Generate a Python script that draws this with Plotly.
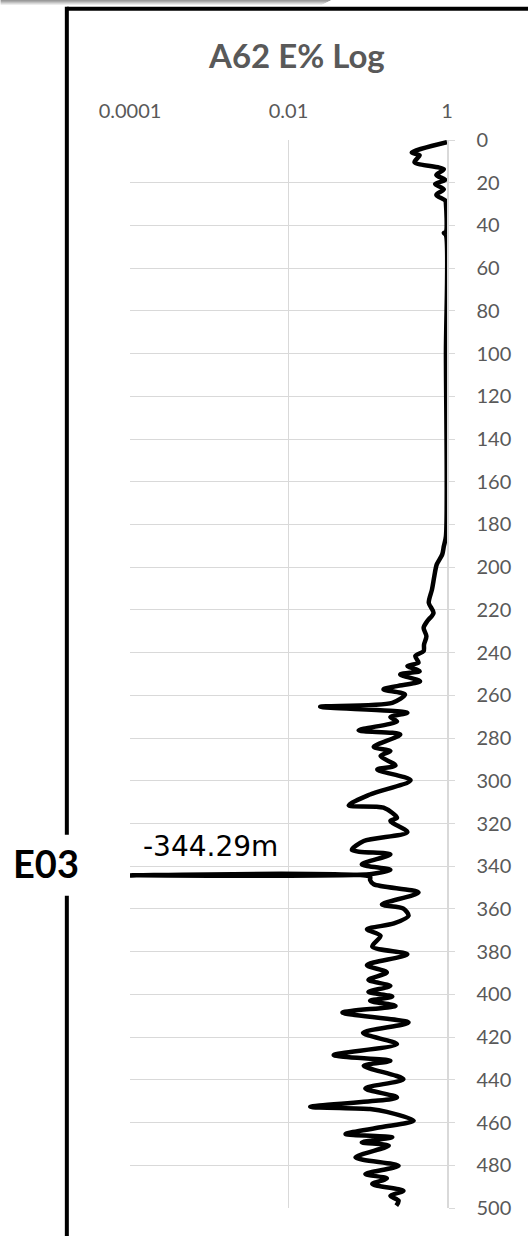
import plotly.graph_objects as go

# ---------------- data ----------------
depth_m = [1.0, 5.9, 7.2, 10.4, 13.7, 16.4, 18.7, 20.6, 23.1, 25.7, 28.4, 30.0, 43.0, 43.5, 44.5,
           100.0, 185.5, 190.2, 194.0, 198.8, 204.2, 210.5, 216.7, 221.4, 225.3, 228.4, 232.3,
           236.2, 239.3, 241.6, 244.7, 246.3, 248.7, 250.2, 253.4, 255.7, 257.2, 259.6, 263.5,
           265.3, 268.1, 270.2, 272.2, 276.4, 278.3, 284.1, 286.1, 288.4, 292.8, 294.7, 299.7,
           306.4, 311.5, 312.6, 317.3, 318.8, 324.0, 328.2, 332.4, 334.4, 339.1, 341.7, 343.6,
           344.29, 345.0, 346.4, 348.4, 352.3, 357.9, 359.8, 363.2, 366.8, 369.5, 372.6, 377.6,
           381.2, 386.3, 389.7, 393.2, 396.0, 398.8, 401.0, 403.0, 405.4, 408.5, 413.2, 418.0,
           423.3, 428.4, 431.1, 433.4, 439.7, 444.0, 448.2, 452.6, 453.7, 455.0, 459.1, 462.2,
           465.4, 466.9, 469.3, 470.8, 476.3, 480.2, 484.1, 486.1, 488.8, 491.9, 494.3, 496.6,
           498.9]
e_pct = [1.0, 0.359, 0.452, 0.389, 0.912, 0.733, 0.955, 0.708, 0.912, 0.733, 0.955, 0.97, 0.97, 0.912, 0.97,
         0.97, 0.97, 0.912, 0.871, 0.741, 0.692, 0.646, 0.589, 0.676, 0.562, 0.507, 0.550,
         0.513, 0.507, 0.398, 0.437, 0.316, 0.452, 0.257, 0.457, 0.234, 0.158, 0.295, 0.204,
         0.0251, 0.316, 0.193, 0.234, 0.0767, 0.257, 0.119, 0.193, 0.145, 0.224, 0.132, 0.347,
         0.107, 0.0575, 0.158, 0.234, 0.193, 0.316, 0.0891, 0.0631, 0.193, 0.0841, 0.193, 0.112,
         0.0001, 0.107, 0.107, 0.119, 0.437, 0.151, 0.282, 0.327, 0.214, 0.0977, 0.145, 0.114,
         0.316, 0.0977, 0.174, 0.102, 0.193, 0.102, 0.204, 0.107, 0.224, 0.0479, 0.327, 0.0871,
         0.234, 0.0372, 0.193, 0.0891, 0.282, 0.0933, 0.234, 0.0188, 0.107, 0.174, 0.380, 0.145,
         0.0525, 0.204, 0.0841, 0.184, 0.070, 0.245, 0.0933, 0.174, 0.114, 0.282, 0.193, 0.245,
         0.229]

x_tick_vals = [0.0001, 0.01, 1]
x_tick_text = ["0.0001", "0.01", "1"]
y_range = [500, 0]
y_dtick = 20
title_text = "A62 E% Log"
marker_label = "-344.29m"
well_label = "E03"

# ---------------- layout geometry ----------------
W, H = 528, 1236
L, R, T, B = 129.5, 81.3, 140, 27.5
PW = W - L - R
PH = H - T - B


def px(x):
    return (x - L) / PW


def py(y):
    return (H - B - y) / PH


GRID = "#d9d9d9"
TXT = "#595959"
FONT = "Lato"

fig = go.Figure()
fig.add_trace(go.Scatter(
    x=e_pct, y=depth_m, mode="lines",
    line=dict(color="black", width=4.5, shape="spline", smoothing=0.8),
    showlegend=False, hoverinfo="skip", cliponaxis=True,
))

shapes = []
# frame lines
shapes.append(dict(type="line", xref="paper", yref="paper",
                   x0=px(66.3), x1=px(540), y0=py(8.7), y1=py(8.7),
                   line=dict(color="black", width=4)))
shapes.append(dict(type="line", xref="paper", yref="paper",
                   x0=px(66.3), x1=px(66.3), y0=py(6.8), y1=py(835),
                   line=dict(color="black", width=4)))
shapes.append(dict(type="line", xref="paper", yref="paper",
                   x0=px(66.3), x1=px(66.3), y0=py(896), y1=py(1250),
                   line=dict(color="black", width=4)))
# faint shadow at the very top
for i, c in enumerate(["#9a9a9a", "#ababab", "#c2c2c2", "#d8d8d8", "#ececec"]):
    shapes.append(dict(type="rect", xref="paper", yref="paper",
                       x0=px(0), x1=px(330 - 2 * i), y0=py(i), y1=py(i + 1),
                       line=dict(width=0), fillcolor=c, layer="below"))

annotations = [
    dict(text="<b>" + title_text + "</b>", xref="paper", yref="paper",
         x=px(296.5), y=py(55), xanchor="center", yanchor="middle", showarrow=False,
         font=dict(family=FONT, size=33, color=TXT)),
    dict(text=marker_label, xref="paper", yref="paper",
         x=px(210), y=py(847), xanchor="center", yanchor="middle", showarrow=False,
         font=dict(family="DejaVu Sans", size=28, color="black")),
    dict(text="<b>" + well_label + "</b>", xref="paper", yref="paper",
         x=px(45.6), y=py(863), xanchor="center", yanchor="middle", showarrow=False,
         font=dict(family=FONT, size=38, color="black")),
]

fig.update_layout(
    width=W, height=H,
    margin=dict(l=L, r=R, t=T, b=B, pad=0),
    paper_bgcolor="white", plot_bgcolor="white",
    shapes=shapes, annotations=annotations,
    font=dict(family=FONT, color=TXT),
    xaxis=dict(type="log", range=[-4, 0], side="top",
               tickvals=x_tick_vals, ticktext=x_tick_text,
               showgrid=True, gridcolor=GRID, gridwidth=1,
               showline=False, zeroline=False, ticks="",
               ticklabelstandoff=17,
               tickfont=dict(family=FONT, size=20, color=TXT)),
    yaxis=dict(range=y_range, dtick=y_dtick, side="right",
               showgrid=True, gridcolor=GRID, gridwidth=1,
               showline=True, linecolor=GRID, linewidth=1.5, zeroline=False,
               ticks="outside", ticklen=6, tickcolor=GRID,
               ticklabelstandoff=18,
               tickfont=dict(family=FONT, size=20, color=TXT)),
)

fig.write_html("out.html",
               config={"displayModeBar": False, "staticPlot": True},
               post_script="document.body.style.margin='0';document.body.style.overflow='hidden';")
